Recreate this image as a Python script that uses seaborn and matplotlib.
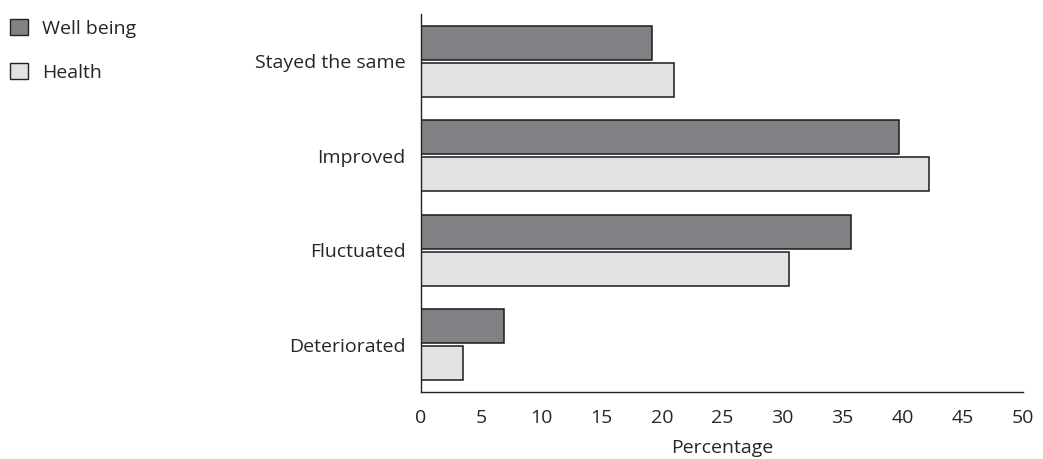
import matplotlib
matplotlib.use("Agg")
import matplotlib.pyplot as plt
import seaborn as sns
import pandas as pd

categories = ["Stayed the same", "Improved", "Fluctuated", "Deteriorated"]
well_being = [19.2, 39.7, 35.7, 6.9]
health = [21.0, 42.2, 30.6, 3.5]
series_names = ["Well being", "Health"]
x_ticks = [0, 5, 10, 15, 20, 25, 30, 35, 40, 45, 50]

df = pd.DataFrame({
    "Category": categories * 2,
    "Series": [series_names[0]] * len(categories) + [series_names[1]] * len(categories),
    "Value": well_being + health,
})

sns.set_style("white")
plt.rcParams["font.family"] = ["Open Sans", "DejaVu Sans"]

fig = plt.figure(figsize=(10.43, 4.59), dpi=100)
ax = fig.add_axes([421 / 1043, 1 - 392 / 459, (1023 - 421) / 1043, (392 - 14) / 459])

palette = {"Well being": "#808285", "Health": "#E1E2E3"}
sns.barplot(data=df, y="Category", x="Value", hue="Series", order=categories,
            hue_order=series_names, palette=palette, orient="h", width=0.78,
            gap=0.08, edgecolor="#1a1a1a", linewidth=1.1, ax=ax, legend=False,
            saturation=1)

ax.set_xlim(0, 50)
ax.set_ylim(3.5, -0.5)
ax.set_xticks(x_ticks)
ax.set_xticklabels([str(t) for t in x_ticks], fontsize=14)
ax.tick_params(axis="x", direction="in", length=7, width=1, color="#222", pad=12)
ax.tick_params(axis="y", length=0, pad=11, labelsize=14)
ax.set_ylabel("")
ax.set_xlabel("Percentage", fontsize=14, labelpad=9)
for s in ["top", "right"]:
    ax.spines[s].set_visible(False)
for s in ["left", "bottom"]:
    ax.spines[s].set_color("#222")
    ax.spines[s].set_linewidth(1)

from matplotlib.patches import Patch
handles = [Patch(facecolor=palette[n], edgecolor="#222", linewidth=1, label=n) for n in series_names]
fig.legend(handles=handles, loc="upper left", bbox_to_anchor=(-0.007, 0.997),
           frameon=False, fontsize=14, handlelength=0.9, handleheight=0.9,
           labelspacing=1.3, handletextpad=0.75)

fig.savefig("out.png", dpi=100)
